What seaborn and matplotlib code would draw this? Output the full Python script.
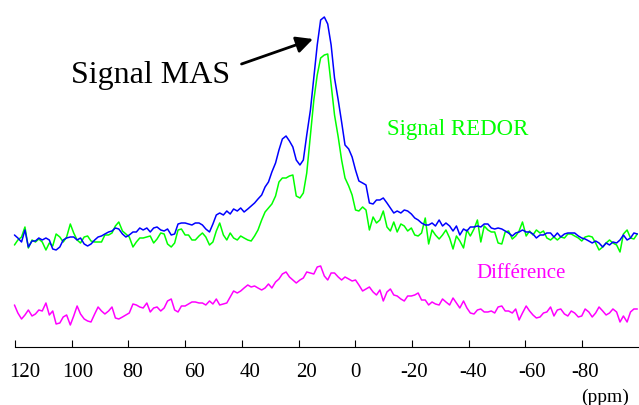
import pandas as pd
import seaborn as sns
import matplotlib.pyplot as plt
from matplotlib.transforms import ScaledTranslation

# chemical shift axis (ppm) shared by the three traces
ppm = [120.2, 119.0, 117.7, 116.5, 115.3, 114.0, 112.8, 111.6, 110.4, 109.1,
       107.9, 106.7, 105.5, 104.2, 103.0, 101.8, 100.5, 99.3, 98.1, 96.9,
       95.6, 94.4, 93.2, 91.9, 90.7, 89.5, 88.3, 87.0, 85.8, 84.6,
       83.4, 82.1, 80.9, 79.7, 78.4, 77.2, 76.0, 74.8, 73.5, 72.3,
       71.1, 69.9, 68.6, 67.4, 66.2, 64.9, 63.7, 62.5, 61.3, 60.0,
       58.8, 57.6, 56.4, 55.1, 53.9, 52.7, 51.4, 50.2, 49.0, 47.8,
       46.5, 45.3, 44.1, 42.9, 41.6, 40.4, 39.2, 37.9, 36.7, 35.5,
       34.3, 33.0, 31.8, 30.6, 29.4, 28.1, 26.9, 25.7, 24.4, 23.2,
       22.0, 20.8, 19.5, 18.3, 17.1, 15.8, 14.6, 13.4, 12.2, 10.9,
       9.7, 8.5, 7.3, 6.0, 4.8, 3.6, 2.3, 1.1, -0.1, -1.3,
       -2.6, -3.8, -5.0, -6.3, -7.5, -8.7, -9.9, -11.2, -12.4, -13.6,
       -14.8, -16.1, -17.3, -18.5, -19.8, -21.0, -22.2, -23.4, -24.7, -25.9,
       -27.1, -28.3, -29.6, -30.8, -32.0, -33.3, -34.5, -35.7, -36.9, -38.2,
       -39.4, -40.6, -41.9, -43.1, -44.3, -45.5, -46.8, -48.0, -49.2, -50.4,
       -51.7, -52.9, -54.1, -55.4, -56.6, -57.8, -59.0, -60.3, -61.5, -62.7,
       -63.9, -65.2, -66.4, -67.6, -68.9, -70.1, -71.3, -72.5, -73.8, -75.0,
       -76.2, -77.4, -78.7, -79.9, -81.1, -82.4, -83.6, -84.8, -86.0, -87.3,
       -88.5, -89.7, -90.9, -92.2, -93.4, -94.6, -95.9, -97.1, -98.3, -99.5]

# intensities (a.u.)
mas = [5, 2, -2, 10, -7, -1, -1, 2, 0, 2,
       0, -9, -10, -7, 0, 2, 3, 3, 0, 2,
       -4, -6, -4, 0, 3, 4, 6, 8, 9, 12,
       11, 6, 3, 5, 8, 8, 12, 10, 12, 8,
       12, 13, 10, 9, 11, 5, 6, 16, 17, 17,
       16, 15, 17, 17, 15, 11, 8, 16, 25, 27,
       25, 29, 26, 31, 29, 32, 28, 31, 34, 37,
       41, 45, 53, 58, 68, 77, 90, 101, 104, 99,
       93, 80, 75, 80, 105, 130, 162, 195, 220, 223,
       216, 195, 162, 140, 118, 95, 91, 83, 70, 59,
       57, 55, 37, 36, 40, 40, 42, 37, 32, 27,
       29, 27, 30, 29, 26, 22, 20, 17, 15, 15,
       17, 14, 20, 14, 17, 14, 9, 14, 5, 11,
       9, 13, 13, 14, 13, 16, 16, 12, 11, 12,
       11, 9, 7, 4, 7, 8, 10, 8, 8, 6,
       2, 5, 5, 7, 7, 3, 7, 3, 6, 7,
       7, 7, 4, 2, 1, -1, -3, -1, -3, -7,
       -3, -5, -2, -3, 0, 5, 0, 2, 7, 6]

redor = [-5, 0, 3, 13, -8, 0, -2, 1, -2, -10,
         -3, -6, 6, 3, -2, 3, 16, 7, 0, -3,
         3, 4, -1, -2, -2, -2, 5, 5, 7, 14,
         18, 9, 6, 3, -7, -2, 2, 2, 3, 4,
         -3, 1, 7, 6, -4, -7, -3, 10, 11, 5,
         5, 0, 0, 4, 7, 3, -5, -2, 9, 17,
         5, 0, 7, 2, 0, 4, 2, 0, -1, 4,
         10, 20, 28, 32, 36, 44, 58, 62, 62, 64,
         65, 44, 42, 47, 67, 105, 140, 165, 182, 185,
         186, 155, 125, 103, 80, 62, 54, 45, 30, 29,
         33, 30, 10, 23, 17, 20, 29, 13, 9, 18,
         8, 16, 14, 9, 12, 5, 4, 7, 22, -4,
         10, 5, 1, 5, 10, 2, -9, 4, -1, -8,
         10, 4, 11, 20, -2, 14, 10, 8, 8, -3,
         -4, 8, 9, 1, 4, 9, 18, 4, 9, 5,
         10, 7, 9, 2, 0, 3, 0, 3, 2, 6,
         6, 4, 2, -1, 3, 4, 3, -3, -10, -7,
         -3, 0, -3, -5, -12, 6, 10, 2, 1, 6]

difference = [13, 5, -1, 3, 8, 2, 4, 8, 7, 15,
              3, 7, -6, -5, 1, 3, -7, 2, 12, 4,
              -1, -3, -4, 4, 11, 7, 4, 7, 11, 0,
              -1, 1, 3, 5, 14, 13, 11, 10, 15, 6,
              10, 11, 7, 10, 17, 19, 8, 6, 12, 12,
              14, 16, 16, 15, 15, 13, 17, 14, 19, 13,
              14, 15, 21, 27, 25, 27, 30, 33, 31, 32,
              30, 28, 30, 34, 30, 36, 39, 44, 46, 41,
              38, 35, 38, 40, 46, 45, 44, 51, 52, 42,
              38, 45, 45, 41, 38, 41, 39, 37, 38, 33,
              27, 29, 31, 26, 23, 28, 17, 26, 29, 23,
              22, 19, 17, 22, 22, 23, 25, 18, 18, 13,
              16, 14, 13, 19, 16, 13, 20, 15, 10, 17,
              10, 5, 4, 8, 9, 6, 6, 7, 5, 11,
              12, 7, 7, 5, 9, -2, 5, 12, 7, 3,
              0, 1, 5, 6, 11, 2, 8, 9, 4, 2,
              7, 5, 1, 2, 9, 6, 1, 5, 11, 7,
              3, 5, 9, 6, -4, 2, -4, 6, 9, 9]

tick_values = [120, 100, 80, 60, 40, 20, 0, -20, -40, -60, -80]
tick_labels = ['120', '100', '80', '60', '40', '20', '0', '-20', '-40', '-60', '-80']
# the labels in the original sit a little to the right of their ticks (points)
label_shift = [7, 4, 3, 7, 6, 6, 0, 1.5, 3, 5, 2.5]

DIFF_OFFSET = -78  # the difference trace is drawn below the others

sns.set_style('white')
plt.rcParams['font.family'] = ['Liberation Serif', 'DejaVu Serif']
plt.rcParams['text.color'] = 'black'

df = pd.concat([
    pd.DataFrame({'ppm': ppm, 'intensity': mas, 'trace': 'MAS'}),
    pd.DataFrame({'ppm': ppm, 'intensity': redor, 'trace': 'REDOR'}),
    pd.DataFrame({'ppm': ppm, 'intensity': [v + DIFF_OFFSET for v in difference],
                  'trace': 'Difference'}),
])
colors = {'MAS': '#0000ff', 'REDOR': '#00ff00', 'Difference': '#ff00ff'}

fig = plt.figure(figsize=(6.39, 4.05), dpi=100)
ax = fig.add_axes([0, 0.142, 1, 0.858])

sns.lineplot(data=df, x='ppm', y='intensity', hue='trace',
             hue_order=['REDOR', 'MAS', 'Difference'], palette=colors,
             estimator=None, sort=False, legend=False, lw=1.1, ax=ax)

ax.set_xlim(125.3, -100.1)
ax.set_ylim(-107.5, 240)
ax.set_xlabel('')
ax.set_ylabel('')
ax.set_yticks([])
ax.set_xticks(tick_values)
ax.set_xticklabels(tick_labels)
ax.tick_params(axis='x', bottom=True, direction='in', length=5, width=0.8,
               pad=11, labelsize=15, colors='black')
for lab, dx in zip(ax.get_xticklabels(), label_shift):
    lab.set_transform(lab.get_transform() + ScaledTranslation(dx / 72, 0, fig.dpi_scale_trans))
for side in ['left', 'top', 'right']:
    ax.spines[side].set_visible(False)
ax.spines['bottom'].set_color('black')
ax.spines['bottom'].set_linewidth(0.8)
ax.spines['bottom'].set_bounds(120, -100.1)

ax.text(72.1, 157, 'Signal MAS', fontsize=23, color='black', ha='center', va='baseline')
ax.annotate('', xy=(14.9, 201), xytext=(40.1, 176),
            arrowprops=dict(arrowstyle='-|>', mutation_scale=25, lw=2,
                            color='black', shrinkA=0, shrinkB=0))
ax.text(-11.2, 105, 'Signal REDOR', fontsize=16.5, color='#00ff00',
        ha='left', va='baseline')
ax.text(-42.9, -38, 'Différence', fontsize=15, color='#ff00ff',
        ha='left', va='baseline')
fig.text(605 / 639, 1 - 397 / 405, '(ppm)', fontsize=14, color='black',
         ha='center', va='center')

fig.savefig('out.png', dpi=100)
